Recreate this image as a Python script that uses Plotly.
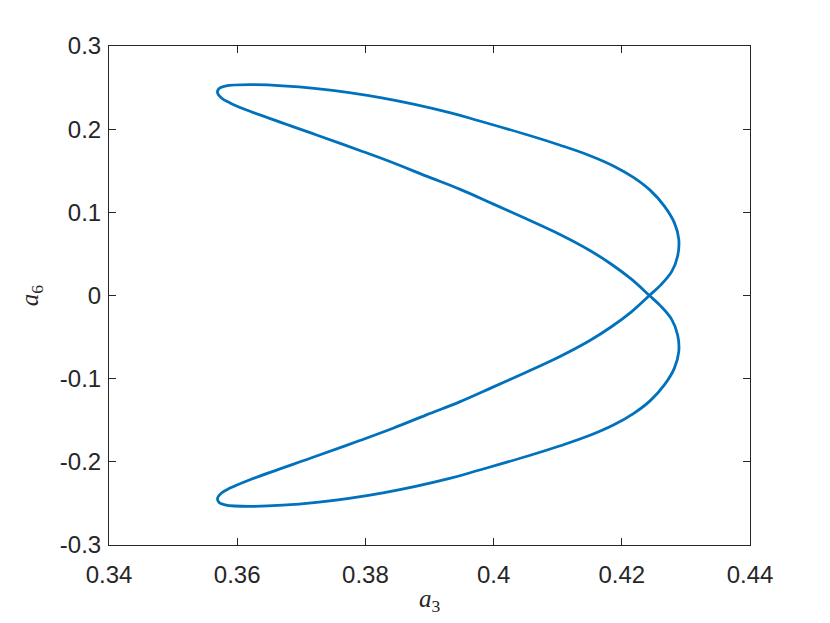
import plotly.graph_objects as go

# Closed trajectory in the (a3, a6) plane.
# Order: upper tip -> inner branch down to the crossing -> lower outer lobe ->
# lower tip -> inner branch up to the crossing -> upper outer lobe -> upper tip.
a3 = [
    0.35693, 0.35755, 0.35888, 0.36199, 0.37238, 0.37913, 0.38431, 0.38952, 0.39470,
    0.39989, 0.40509, 0.41028, 0.41495, 0.41838, 0.42150, 0.42430,
    0.42601, 0.42780, 0.42871, 0.42889, 0.42819, 0.42664, 0.42445, 0.42181, 0.41869,
    0.41495, 0.41028, 0.40561, 0.39782, 0.39315, 0.38276, 0.37238, 0.36199, 0.35810,
    0.35717,
    0.35693, 0.35755, 0.35888, 0.36199, 0.37238, 0.37913, 0.38431, 0.38952, 0.39470,
    0.39989, 0.40509, 0.41028, 0.41495, 0.41838, 0.42150, 0.42430,
    0.42601, 0.42780, 0.42871, 0.42889, 0.42819, 0.42664, 0.42445, 0.42181, 0.41869,
    0.41495, 0.41028, 0.40561, 0.39782, 0.39315, 0.38276, 0.37238, 0.36199, 0.35810,
    0.35717, 0.35693,
]
a6 = [
    0.2440, 0.2374, 0.2316, 0.2215, 0.1930, 0.1744, 0.1596, 0.1435, 0.1279,
    0.1102, 0.0922, 0.0736, 0.0544, 0.0376, 0.0196, 0.0000,
    -0.0122, -0.0290, -0.0475, -0.0676, -0.0876, -0.1075, -0.1264, -0.1420, -0.1558,
    -0.1684, -0.1810, -0.1924, -0.2098, -0.2200, -0.2374, -0.2488, -0.2536, -0.2518,
    -0.2488,
    -0.2440, -0.2374, -0.2316, -0.2215, -0.1930, -0.1744, -0.1596, -0.1435, -0.1279,
    -0.1102, -0.0922, -0.0736, -0.0544, -0.0376, -0.0196, 0.0000,
    0.0122, 0.0290, 0.0475, 0.0676, 0.0876, 0.1075, 0.1264, 0.1420, 0.1558,
    0.1684, 0.1810, 0.1924, 0.2098, 0.2200, 0.2374, 0.2488, 0.2536, 0.2518,
    0.2488, 0.2440,
]

x_ticks = [0.34, 0.36, 0.38, 0.40, 0.42, 0.44]
x_tick_labels = ["0.34", "0.36", "0.38", "0.4", "0.42", "0.44"]
y_ticks = [-0.3, -0.2, -0.1, 0.0, 0.1, 0.2, 0.3]
y_tick_labels = ["-0.3", "-0.2", "-0.1", "0", "0.1", "0.2", "0.3"]

axis_color = "#262626"
tick_font = dict(family="Liberation Sans, Arial, sans-serif", size=24, color=axis_color)
label_font = dict(family="Liberation Serif, DejaVu Serif, serif", size=25, color=axis_color)

fig = go.Figure()
fig.add_trace(go.Scatter(
    x=a3, y=a6, mode="lines",
    line=dict(color="#0072BD", width=2.8, shape="spline", smoothing=1.1),
    showlegend=False, hoverinfo="skip",
))

axis_common = dict(
    showgrid=False, zeroline=False, showline=True, linecolor=axis_color, linewidth=1,
    mirror="ticks", ticks="inside", ticklen=7, tickwidth=1, tickcolor=axis_color,
    tickfont=tick_font, automargin=False,
)

fig.update_layout(
    width=822, height=615,
    margin=dict(l=101, r=80, t=38, b=78),
    paper_bgcolor="white", plot_bgcolor="white",
    xaxis=dict(range=[0.34, 0.44], tickvals=x_ticks, ticktext=x_tick_labels,
               ticklabelstandoff=8,
               title=dict(text="<i>a</i><sub>3</sub>", font=label_font, standoff=2),
               **axis_common),
    yaxis=dict(range=[-0.3, 0.3], tickvals=y_ticks, ticktext=y_tick_labels,
               ticklabelstandoff=2,
               title=dict(text="<i>a</i><sub>6</sub>", font=label_font, standoff=14),
               **axis_common),
)

fig.write_html("out.html")
